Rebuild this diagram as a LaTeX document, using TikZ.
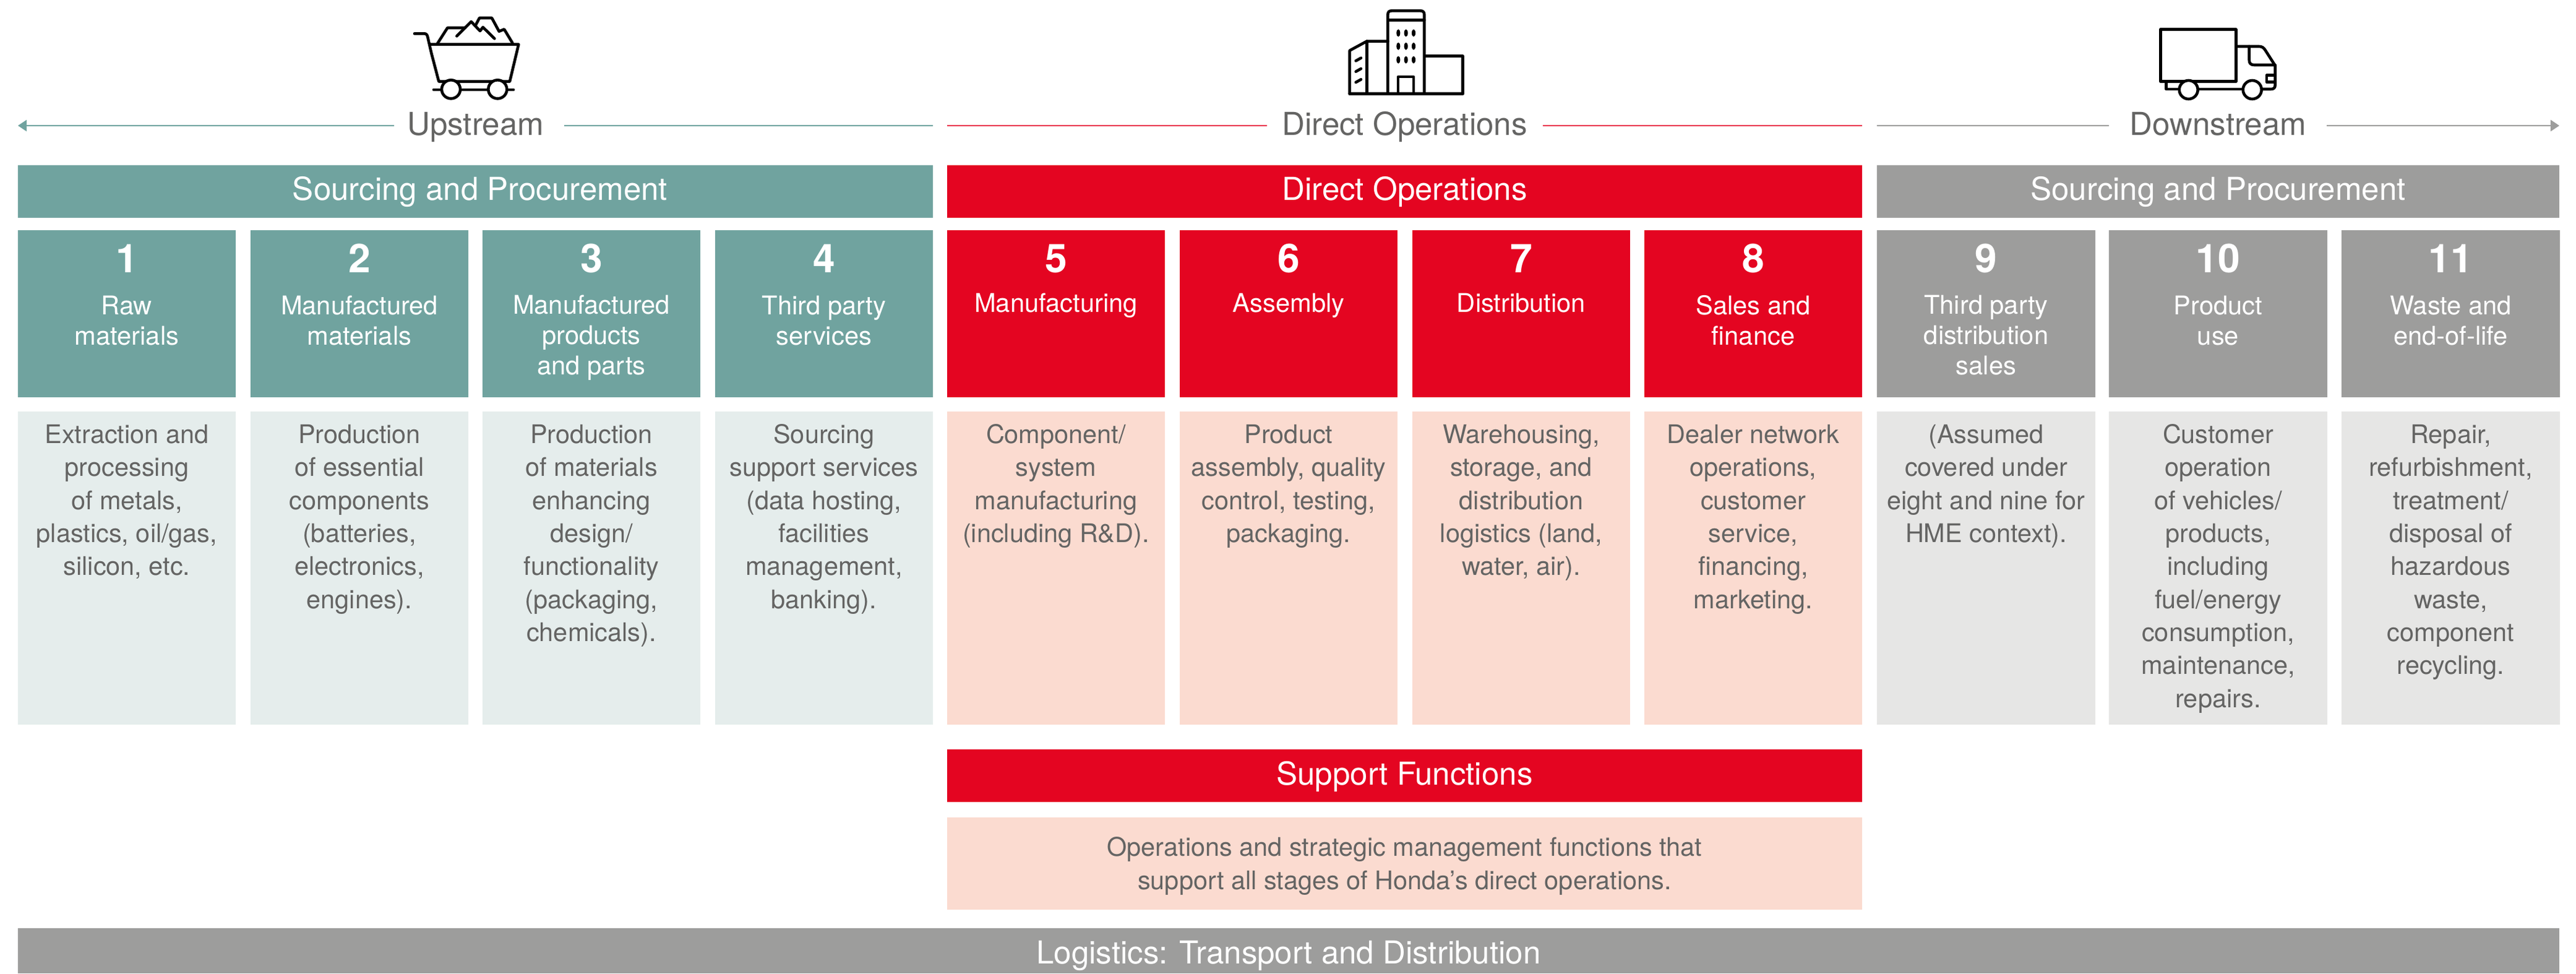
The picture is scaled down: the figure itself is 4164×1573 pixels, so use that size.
\documentclass[tikz,border=0pt]{standalone}
\usepackage{fontspec}
\setmainfont{TeX Gyre Heros}
\usetikzlibrary{arrows.meta}
\definecolor{cteal}{HTML}{70A39F}
\definecolor{cred}{HTML}{E40521}
\definecolor{cgrey}{HTML}{9D9D9C}
\definecolor{lteal}{HTML}{E5EDEC}
\definecolor{lpeach}{HTML}{FBDBD0}
\definecolor{lgrey}{HTML}{E6E6E5}
\definecolor{ctext}{HTML}{646463}
\tikzset{
  panel/.style={rectangle,inner sep=0pt,outer sep=0pt,anchor=north west},
  base text/.style={inner sep=0pt,outer sep=0pt,anchor=base,align=center},
  headtxt/.style={base text,font=\fontsize{12.25}{14}\selectfont},
  numtxt/.style={base text,text=white,font=\fontsize{15.4}{18}\selectfont\bfseries},
  labeltxt/.style={base text,text=white,font=\fontsize{10}{11.76}\selectfont},
  desctxt/.style={base text,text=ctext,font=\fontsize{9.95}{12.8}\selectfont},
  icon/.style={line width=1.1pt,line cap=round,line join=round,draw=black},
  flow/.style={line width=0.55pt},
  tip/.style={-{Triangle[length=3.4pt,width=4.4pt]}},
  icoscale/.style={x=0.08pt,y=-0.08pt}
}
% column: id, x0, dark colour, light colour, number, label last-baseline, label, desc line count, desc
\newcommand{\stagecol}[9]{
  \pgfmathsetmacro{\cx}{#2+176}
  \pgfmathsetmacro{\dy}{716.6+(#8-1)*53.3}
  \node[panel,fill=#3,minimum width=352*0.24pt,minimum height=270*0.24pt] (box#1) at (#2,372) {};
  \node[panel,fill=#4,minimum width=352*0.24pt,minimum height=506*0.24pt] (det#1) at (#2,665) {};
  \node[numtxt] (num#1) at (\cx,440) {#5};
  \node[labeltxt] (lab#1) at (\cx,#6) {#7};
  \node[desctxt] (dsc#1) at (\cx,\dy) {#9};
}
\newcommand{\widecol}[9]{
  \pgfmathsetmacro{\cx}{#2+176.5}
  \pgfmathsetmacro{\dy}{716.6+(#8-1)*53.3}
  \node[panel,fill=#3,minimum width=353*0.24pt,minimum height=270*0.24pt] (box#1) at (#2,372) {};
  \node[panel,fill=#4,minimum width=353*0.24pt,minimum height=506*0.24pt] (det#1) at (#2,665) {};
  \node[numtxt] (num#1) at (\cx,440) {#5};
  \node[labeltxt] (lab#1) at (\cx,#6) {#7};
  \node[desctxt] (dsc#1) at (\cx,\dy) {#9};
}
\begin{document}
\begin{tikzpicture}[x=0.24pt,y=-0.24pt]
\useasboundingbox (0,0) rectangle (4164,1573);
\fill[white] (0,0) rectangle (4164,1573);

% ---- header bars
\node[panel,fill=cteal,minimum width=1479*0.24pt,minimum height=85*0.24pt] (barU) at (29,267) {};
\node[panel,fill=cred,minimum width=1479*0.24pt,minimum height=85*0.24pt] (barD) at (1531,267) {};
\node[panel,fill=cgrey,minimum width=1103*0.24pt,minimum height=85*0.24pt] (barW) at (3034,267) {};
\node[headtxt,text=white] (barUt) at (776,323.6) {Sourcing and Procurement};
\node[headtxt,text=white] (barDt) at (2270.5,323.6) {Direct Operations};
\node[headtxt,text=white] (barWt) at (3585.5,323.6) {Sourcing and Procurement};

% ---- flow titles and lines
\node[headtxt,text=ctext] (ttlU) at (768.5,218) {Upstream};
\node[headtxt,text=ctext] (ttlD) at (2270.5,218) {Direct Operations};
\node[headtxt,text=ctext] (ttlW) at (3585.5,218) {Downstream};
\coordinate (u1) at (29,203); \coordinate (u2) at (637,203);
\coordinate (u3) at (912,203); \coordinate (u4) at (1508,203);
\coordinate (d1) at (1531,203); \coordinate (d2) at (2048,203);
\coordinate (d3) at (2494,203); \coordinate (d4) at (3010,203);
\coordinate (w1) at (3034,203); \coordinate (w2) at (3409,203);
\coordinate (w3) at (3761,203); \coordinate (w4) at (4137,203);
\draw[flow,cteal,tip] (u2) -- (u1);
\draw[flow,cteal] (u3) -- (u4);
\draw[flow,cred!80!white] (d1) -- (d2);
\draw[flow,cred!80!white] (d3) -- (d4);
\draw[flow,cgrey] (w1) -- (w2);
\draw[flow,cgrey,tip] (w3) -- (w4);

% ---- columns
\stagecol{1}{29}{cteal}{lteal}{1}{557}{Raw\\materials}{5}{Extraction and\\processing\\of metals,\\plastics, oil/gas,\\silicon, etc.}
\stagecol{2}{405}{cteal}{lteal}{2}{557}{Manufactured\\materials}{6}{Production\\of essential\\components\\(batteries,\\electronics,\\engines).}
\stagecol{3}{780}{cteal}{lteal}{3}{605}{Manufactured\\products\\and parts}{7}{Production\\of materials\\enhancing\\design/\\functionality\\(packaging,\\chemicals).}
\stagecol{4}{1156}{cteal}{lteal}{4}{557}{Third party\\services}{6}{Sourcing\\support services\\(data hosting,\\facilities\\management,\\banking).}
\stagecol{5}{1531}{cred}{lpeach}{5}{504}{Manufacturing}{4}{Component/\\system\\manufacturing\\(including R\&D).}
\stagecol{6}{1907}{cred}{lpeach}{6}{504}{Assembly}{4}{Product\\assembly, quality\\control, testing,\\packaging.}
\stagecol{7}{2283}{cred}{lpeach}{7}{504}{Distribution}{5}{Warehousing,\\storage, and\\distribution\\logistics (land,\\water, air).}
\stagecol{8}{2658}{cred}{lpeach}{8}{557}{Sales and\\finance}{6}{Dealer network\\operations,\\customer\\service,\\financing,\\marketing.}
\widecol{9}{3034}{cgrey}{lgrey}{9}{605}{Third party\\distribution\\sales}{4}{(Assumed\\covered under\\eight and nine for\\HME context).}
\widecol{10}{3409}{cgrey}{lgrey}{10}{557}{Product\\use}{9}{Customer\\operation\\of vehicles/\\products,\\including\\fuel/energy\\consumption,\\maintenance,\\repairs.}
\widecol{11}{3785}{cgrey}{lgrey}{11}{557}{Waste and\\end-of-life}{8}{Repair,\\refurbishment,\\treatment/\\disposal of\\hazardous\\waste,\\component\\recycling.}

% ---- support and logistics
\node[panel,fill=cred,minimum width=1479*0.24pt,minimum height=85*0.24pt] (sup) at (1531,1211) {};
\node[headtxt,text=white] (supt) at (2270.5,1268) {Support Functions};
\node[panel,fill=lpeach,minimum width=1479*0.24pt,minimum height=149*0.24pt] (supd) at (1531,1321) {};
\node[desctxt] (supdt) at (2270.5,1437) {Operations and strategic management functions that\\support all stages of Honda’s direct operations.};
\node[panel,fill=cgrey,minimum width=4108*0.24pt,minimum height=73*0.24pt] (logi) at (29,1500) {};
\node[headtxt,text=white] (logit) at (2083,1557) {Logistics: Transport and Distribution};

% ---- cart icon
\begin{scope}[shift={(620,0)},icoscale]
\draw[icon] (150,163) -- (198,163) .. controls (208,163) and (212,170) .. (214,180) -- (232,258) -- (268,395) -- (612,395) -- (655,215) -- (225,215);
\draw[icon] (243,435) -- (630,435);
\draw[icon,fill=white] (327,433) circle[radius=45];
\draw[icon,fill=white] (553,433) circle[radius=45];
\draw[icon] (262,210) -- (310,135) -- (395,135);
\draw[icon] (355,175) -- (425,105) -- (468,150) -- (482,132) -- (538,187);
\draw[icon] (445,125) -- (465,87) -- (525,87) -- (560,152) -- (585,142) -- (625,208);
\end{scope}

% ---- building icon
\begin{scope}[shift={(2130,0)},icoscale]
\draw[icon] (340,450) -- (340,72) .. controls (340,58) and (346,52) .. (360,52) -- (497,52) .. controls (511,52) and (517,58) .. (517,72) -- (517,450);
\draw[icon] (340,97) -- (517,97);
\draw[icon] (155,455) -- (703,455) -- (703,272) -- (517,272);
\draw[icon] (155,455) -- (155,245) -- (238,200) -- (340,200);
\draw[icon] (238,200) -- (238,455);
\draw[icon] (390,450) -- (390,372) -- (465,372) -- (465,450);
\foreach \wx in {391,428,465} \foreach \wy in {160,224,290}
  \fill[black] (\wx,\wy) ellipse[x radius=9,y radius=18];
\foreach \wy in {288,340,392}
  \draw[icon] (185,\wy+7) -- (210,\wy-7);
\end{scope}

% ---- truck icon
\begin{scope}[shift={(3440,20)},icoscale]
\draw[icon] (157,83) rectangle (523,335);
\draw[icon] (523,165) -- (635,165) .. controls (650,165) and (658,172) .. (665,183) -- (713,258) -- (713,352) .. controls (713,366) and (706,372) .. (692,372) -- (650,372);
\draw[icon] (185,338) -- (185,372) -- (245,372);
\draw[icon] (340,372) -- (555,372);
\draw[icon,fill=white] (293,375) circle[radius=45];
\draw[icon,fill=white] (602,375) circle[radius=45];
\draw[icon] (587,165) -- (587,230) .. controls (587,248) and (595,255) .. (612,255) -- (713,255);
\draw[icon] (713,305) -- (672,305) -- (672,338) -- (713,338);
\end{scope}
\end{tikzpicture}
\end{document}
